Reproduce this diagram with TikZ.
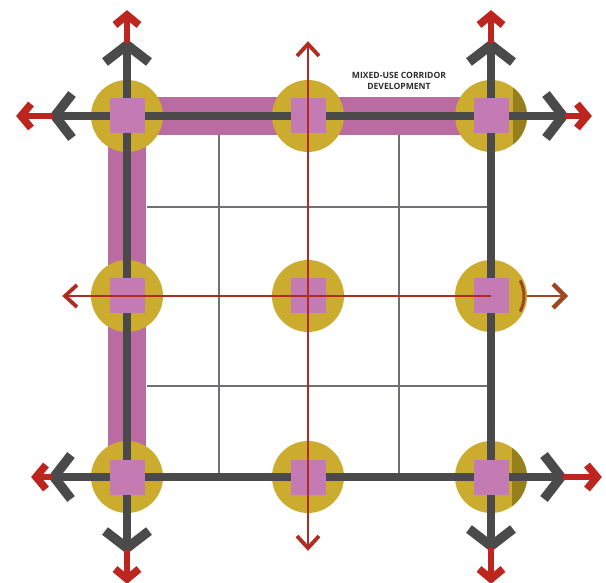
\documentclass[tikz,border=0pt]{standalone}
\usepackage{fontspec}
\setmainfont{Open Sans}
\definecolor{hubyellow}{RGB}{203,172,46}
\definecolor{hubdark}{RGB}{150,128,30}
\definecolor{sqpink}{RGB}{196,122,178}
\definecolor{bandpink}{RGB}{186,108,162}
\definecolor{roadgray}{RGB}{74,74,74}
\definecolor{arrowred}{RGB}{188,38,30}
\definecolor{thinred}{RGB}{176,44,34}
\definecolor{brownred}{RGB}{160,70,32}
\definecolor{gridgray}{RGB}{110,112,118}
\definecolor{textgray}{RGB}{45,45,45}
\begin{document}
\begin{tikzpicture}[x=1pt,y=-1pt,
  road/.style={draw=roadgray,line width=8pt,line cap=butt,line join=miter},
  chev/.style={draw=roadgray,line width=9.5pt,line cap=butt,line join=miter},
  band/.style={draw=bandpink,line width=38pt,line cap=butt,line join=miter},
  gridline/.style={draw=gridgray,line width=1.3pt},
  hub/.style={circle,fill=hubyellow,minimum size=72pt,inner sep=0pt},
  sq/.style={rectangle,fill=sqpink,minimum size=35pt,inner sep=0pt},
  redarrow/.style={draw=arrowred,line width=5.5pt,line cap=butt,line join=miter},
  redhead/.style={draw=arrowred,line width=7.5pt,line cap=butt,line join=miter},
  thinline/.style={draw=thinred,line width=2.6pt},
  thinhead/.style={draw=thinred,line width=3.8pt,line cap=butt,line join=miter},
  pics/outarr/.style 2 args={code={
    \draw[road] (0,0) -- (#1-4,0);
    \draw[chev] (#1-19,22) -- (#1-2,0) -- (#1-19,-22);
    \draw[redarrow] (#1,0) -- (#2-6,0);
    \draw[redhead] (#2-14,12) -- (#2-4,0) -- (#2-14,-12);
  }}
]
\useasboundingbox (0,0) rectangle (606,583);
\fill[white] (0,0) rectangle (606,583);

% hub positions
\coordinate (n11) at (127,116);
\coordinate (n12) at (308,116);
\coordinate (n13) at (491,116);
\coordinate (n21) at (127,296);
\coordinate (n22) at (308,296);
\coordinate (n23) at (491,296);
\coordinate (n31) at (127,477);
\coordinate (n32) at (308,477);
\coordinate (n33) at (491,477);

% thin grid
\coordinate (g1t) at (219,135); \coordinate (g1b) at (219,477);
\coordinate (g2t) at (399,135); \coordinate (g2b) at (399,477);
\coordinate (h1l) at (147,207); \coordinate (h1r) at (491,207);
\coordinate (h2l) at (147,386); \coordinate (h2r) at (491,386);
\draw[gridline] (g1t) -- (g1b);
\draw[gridline] (g2t) -- (g2b);
\draw[gridline] (h1l) -- (h1r);
\draw[gridline] (h2l) -- (h2r);

% mixed-use corridor band
\draw[band] (n31) -- (n11) -- (n13);

% hubs
\foreach \n in {n11,n12,n13,n21,n22,n23,n31,n32,n33}
  \node[hub] (h\n) at (\n) {};

% darker crescents on right-hand hubs
\begin{scope}
\clip (n13) circle (36);
\fill[hubdark] (513,70) rectangle (530,160);
\end{scope}
\begin{scope}
\clip (n33) circle (36);
\fill[hubdark] (512,430) rectangle (530,520);
\end{scope}
\draw[brownred,line width=3pt] (n23) ++(-28:33) arc[start angle=-28,end angle=28,radius=33];

% main roads
\draw[road] (n11) -- (n13) -- (n33) -- (n31) -- cycle;

% outward arrows at corners
\pic[rotate=90]  at (n11) {outarr={73}{105}};
\pic[rotate=180] at (n11) {outarr={74}{110}};
\pic[rotate=90]  at (n13) {outarr={73}{105}};
\pic[rotate=0]   at (n13) {outarr={74}{100}};
\pic[rotate=180] at (n31) {outarr={75}{95}};
\pic[rotate=-90] at (n31) {outarr={73}{106}};
\pic[rotate=0]   at (n33) {outarr={72}{110}};
\pic[rotate=-90] at (n33) {outarr={71}{106}};

% squares
\foreach \n in {n11,n12,n13,n21,n22,n23,n31,n32,n33}
  \node[sq] (s\n) at (\n) {};

% thin red axes through centre
\coordinate (tu) at (308,44);
\coordinate (td) at (308,548);
\coordinate (tl) at (65,296);
\coordinate (tr) at (565,296);
\draw[thinline] (tu) -- (td);
\draw[thinline] (tl) -- (n23);
\draw[thinline,draw=brownred] (hn23.east) -- (tr);
\draw[thinhead] ([shift={(-11,12)}]tu) -- (tu) -- ([shift={(11,12)}]tu);
\draw[thinhead] ([shift={(-11,-12)}]td) -- (td) -- ([shift={(11,-12)}]td);
\draw[thinhead] ([shift={(12,-11)}]tl) -- (tl) -- ([shift={(12,11)}]tl);
\draw[thinhead,draw=brownred,line width=4.4pt] ([shift={(-12,-12)}]tr) -- (tr) -- ([shift={(-12,12)}]tr);

% label
\node[font=\bfseries\fontsize{8.6}{11}\selectfont,align=center,text=textgray] (lbl) at (399,81) {MIXED-USE CORRIDOR\\DEVELOPMENT};
\end{tikzpicture}
\end{document}
